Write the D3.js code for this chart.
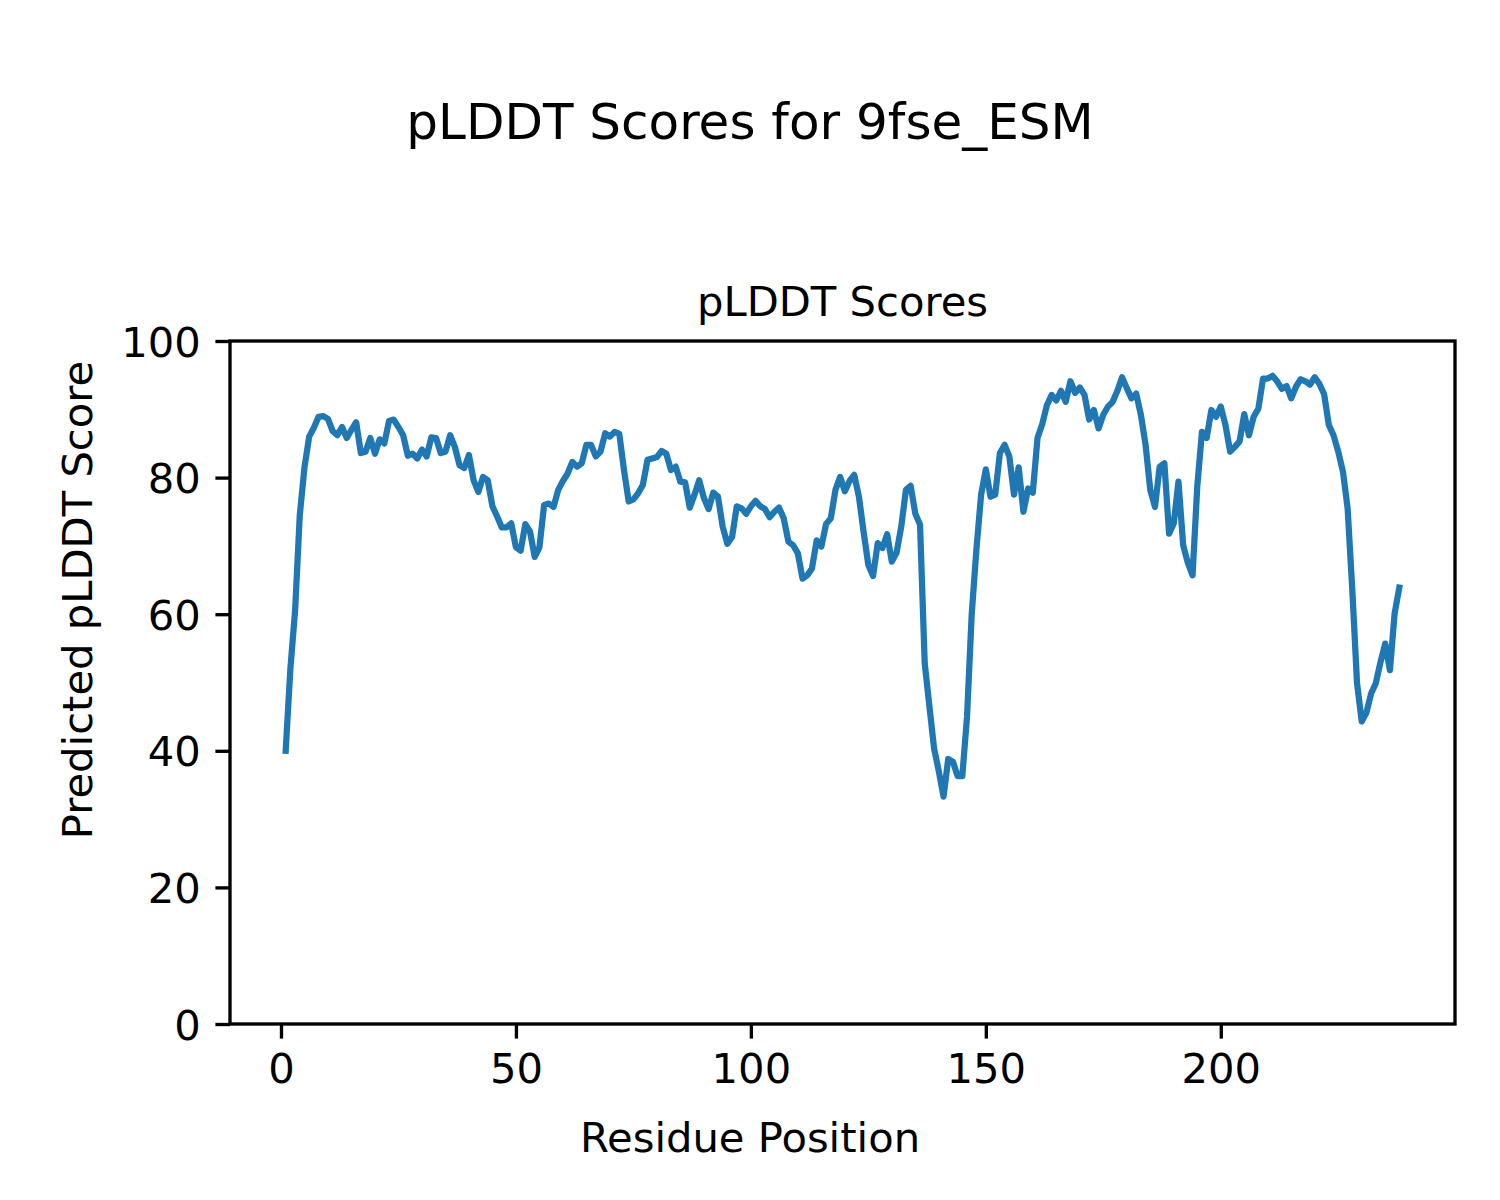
<!DOCTYPE html>
<html>
<head>
<meta charset="utf-8">
<script src="https://cdn.jsdelivr.net/npm/d3@7"></script>
<style>
  html, body { margin: 0; padding: 0; background: #ffffff; }
  svg { display: block; }
  text { font-family: "DejaVu Sans", sans-serif; fill: #000; }
</style>
</head>
<body>
<script>
// ---- data ----
const figureTitle = "pLDDT Scores for 9fse_ESM";
const axesTitle = "pLDDT Scores";
const xLabel = "Residue Position";
const yLabel = "Predicted pLDDT Score";
const xTicks = [0, 50, 100, 150, 200];
const yTicks = [0, 20, 40, 60, 80, 100];
const plddtScores = [
  40, 52, 60.5, 74.5, 81.5, 86, 87.3, 88.9, 89, 88.6,
  86.8, 86.2, 87.4, 85.8, 87, 88.1, 83.6, 83.8, 85.8, 83.5,
  85.6, 85, 88.3, 88.5, 87.4, 86.2, 83.2, 83.5, 82.8, 84.1,
  83.1, 85.9, 85.8, 83.6, 83.8, 86.2, 84.5, 81.8, 81.4, 83.3,
  79.6, 77.9, 80.1, 79.6, 75.8, 74.3, 72.7, 72.7, 73.3, 69.8,
  69.3, 73.2, 72.1, 68.4, 69.8, 76, 76.2, 75.7, 78.2, 79.5,
  80.6, 82.3, 81.6, 82.1, 84.8, 84.8, 83.1, 83.8, 86.5, 86,
  86.7, 86.4, 81.1, 76.5, 76.8, 77.7, 78.9, 82.6, 82.8, 83,
  83.9, 83.5, 81.1, 81.6, 79.4, 79.3, 75.6, 77.5, 79.6, 77,
  75.4, 77.8, 77.2, 72.8, 70.3, 71.3, 75.8, 75.5, 74.7, 75.8,
  76.6, 75.8, 75.4, 74.2, 75, 75.6, 74, 70.6, 70.1, 68.9,
  65.2, 65.7, 66.7, 70.8, 69.9, 73.2, 74, 78.2, 80.1, 78,
  79.5, 80.4, 77.2, 72, 67.2, 65.6, 70.4, 69.7, 71.7, 67.7,
  69, 72.8, 78.2, 78.8, 74.7, 73.1, 52.8, 46.5, 40.3, 37,
  33.3, 38.8, 38.4, 36.3, 36.3, 45, 60, 69.5, 77.5, 81.2,
  77.2, 77.5, 83.6, 84.8, 83.1, 77.5, 81.5, 75, 78.4, 77.8,
  85.8, 87.8, 90.6, 92.1, 91.3, 92.7, 91.1, 94.1, 92.4, 93.2,
  92.1, 88.5, 89.9, 87.2, 89.2, 90.4, 91.1, 92.7, 94.7, 93.1,
  91.6, 92.3, 89.2, 84.8, 78.2, 75.7, 81.6, 82.1, 71.8, 73.3,
  79.4, 70.1, 67.5, 65.7, 78.7, 86.7, 85.8, 89.9, 88.9, 90.4,
  87.7, 83.8, 84.5, 85.3, 89.3, 86.2, 88.9, 90.1, 94.5, 94.5,
  94.9, 94.1, 93, 93.4, 91.6, 93.3, 94.4, 94.1, 93.6, 94.7,
  93.7, 92.2, 87.7, 86.2, 83.8, 80.9, 75.5, 63.5, 49.9, 44.3,
  45.6, 48.4, 49.9, 53, 55.7, 51.8, 60.1, 63.9
];
const points = plddtScores.map((v, i) => ({ pos: i + 1, score: v }));

// ---- layout ----
const W = 1500, H = 1200;
const L = 230, R = 1455, T = 341, B = 1024;
const fs = 41.7;
const tickLen = 14.6, tickPad = 14.6, spineW = 3.33;

const svg = d3.select("body").append("svg")
  .attr("width", W).attr("height", H).attr("viewBox", `0 0 ${W} ${H}`);
svg.append("rect").attr("width", W).attr("height", H).attr("fill", "#fff");

const xMin = d3.min(points, d => d.pos), xMax = d3.max(points, d => d.pos);
const pad = (xMax - xMin) * 0.05;
const x = d3.scaleLinear().domain([xMin - pad, xMax + pad]).range([L, R]);
const y = d3.scaleLinear().domain([0, 100]).range([B, T]);

// line
const line = d3.line().x(d => x(d.pos)).y(d => y(d.score));
svg.append("path").datum(points)
  .attr("d", line)
  .attr("fill", "none")
  .attr("stroke", "#1f77b4")
  .attr("stroke-width", 6.25)
  .attr("stroke-linejoin", "round")
  .attr("stroke-linecap", "square");

// axes
const xAxis = d3.axisBottom(x).tickValues(xTicks).tickFormat(d3.format("d"))
  .tickSize(tickLen).tickSizeOuter(0).tickPadding(tickPad);
const gx = svg.append("g").attr("transform", `translate(0,${B})`).call(xAxis);
gx.select(".domain").remove();
gx.selectAll(".tick line").attr("stroke", "#000").attr("stroke-width", spineW);
gx.selectAll(".tick text").attr("font-size", fs).attr("font-family", "DejaVu Sans").attr("fill", "#000");

const yAxis = d3.axisLeft(y).tickValues(yTicks).tickFormat(d3.format("d"))
  .tickSize(tickLen).tickSizeOuter(0).tickPadding(tickPad);
const gy = svg.append("g").attr("transform", `translate(${L},0)`).call(yAxis);
gy.select(".domain").remove();
gy.selectAll(".tick line").attr("stroke", "#000").attr("stroke-width", spineW);
gy.selectAll(".tick text").attr("font-size", fs).attr("font-family", "DejaVu Sans").attr("fill", "#000")
  .attr("dy", "0.36em");

// spines
svg.append("rect")
  .attr("x", L).attr("y", T).attr("width", R - L).attr("height", B - T)
  .attr("fill", "none").attr("stroke", "#000").attr("stroke-width", spineW)
  .attr("stroke-linejoin", "miter");

// titles & labels
svg.append("text").attr("x", 750).attr("y", 139)
  .attr("text-anchor", "middle").attr("font-size", 50).text(figureTitle);
svg.append("text").attr("x", (L + R) / 2).attr("y", T - 25)
  .attr("text-anchor", "middle").attr("font-size", fs).text(axesTitle);
svg.append("text").attr("x", 750).attr("y", 1152)
  .attr("text-anchor", "middle").attr("font-size", fs).text(xLabel);
svg.append("text")
  .attr("transform", `translate(92,600) rotate(-90)`)
  .attr("text-anchor", "middle").attr("font-size", fs).text(yLabel);
</script>
</body>
</html>
